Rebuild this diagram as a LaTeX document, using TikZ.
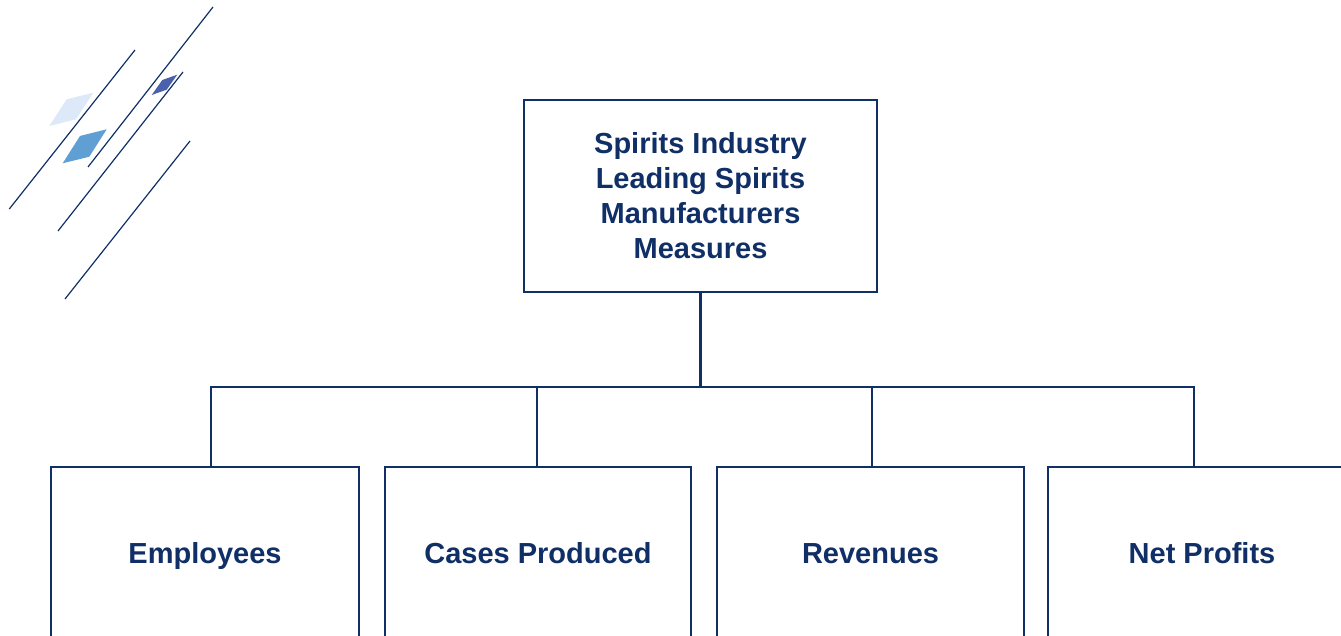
\documentclass[tikz,border=0pt]{standalone}
\usepackage{fontspec}
\setmainfont{Liberation Sans}
\definecolor{navy}{HTML}{0F2F66}
\definecolor{lightdia}{HTML}{DDE9F8}
\definecolor{middia}{HTML}{5F9FD3}
\definecolor{darkdia}{HTML}{4A62AD}
\tikzset{
  box/.style={draw=navy, line width=2.8pt, fill=white, text=navy, font=\fontsize{29}{35}\selectfont\bfseries, align=center, inner sep=0pt},
  topbox/.style={box, minimum width=353pt, minimum height=192pt},
  leafbox/.style={box, minimum height=172pt, text height=21pt, text depth=0pt},
  link/.style={draw=navy, line width=2.8pt},
  deco/.style={draw=navy, line width=1.2pt}
}
\begin{document}
\begin{tikzpicture}[x=1pt,y=-1pt]
\useasboundingbox (0,0) rectangle (1341,636);
\clip (0,0) rectangle (1341,636);
% decoration
\fill[lightdia] (49.3,126) -- (66.7,99.3) -- (93.3,92.7) -- (76,119.3) -- cycle;
\fill[middia] (62.7,163.3) -- (80,136) -- (106.7,129.3) -- (89.3,156.7) -- cycle;
\fill[darkdia] (151.7,95) -- (162.3,80) -- (177.3,74.7) -- (166.7,89.7) -- cycle;
\draw[deco] (9.3,209) -- (135,50);
\draw[deco] (88,167) -- (213,7);
\draw[deco] (58,231) -- (183,72);
\draw[deco] (65,299) -- (190,141);
% nodes
\node[topbox] (top) at (700.5,196) {Spirits Industry\\Leading Spirits\\Manufacturers\\Measures};
\node[leafbox, minimum width=308pt] (emp) at (205,553) {Employees};
\node[leafbox, minimum width=306pt] (cas) at (538,553) {Cases Produced};
\node[leafbox, minimum width=307pt] (rev) at (870.5,553) {Revenues};
\node[leafbox, minimum width=308pt] (net) at (1202,553) {Net Profits};
% connectors
\coordinate (bar) at (701,387);
\coordinate (b1) at (211,387);
\coordinate (b2) at (537,387);
\coordinate (b3) at (872,387);
\coordinate (b4) at (1194,387);
\draw[link] (top.south) -- (top.south |- bar);
\draw[link, line cap=rect] (b1) -- (b4);
\draw[link] (b1) -- (b1 |- emp.north);
\draw[link] (b2) -- (b2 |- cas.north);
\draw[link] (b3) -- (b3 |- rev.north);
\draw[link] (b4) -- (b4 |- net.north);
\end{tikzpicture}
\end{document}
